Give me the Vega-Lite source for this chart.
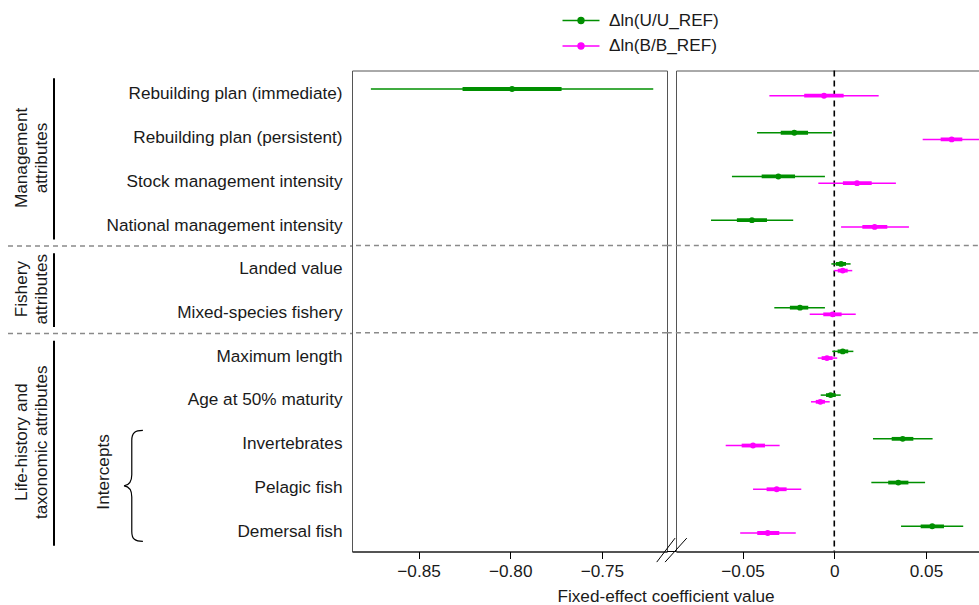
{
  "$schema": "https://vega.github.io/schema/vega-lite/v6.json",
  "padding": {"left": 0, "top": 10.5, "right": 0, "bottom": 0},
  "background": "white",
  "spacing": 9,
  "bounds": "flush",
  "config": {
    "font": "Liberation Sans",
    "view": {"stroke": "#555", "strokeWidth": 1},
    "axis": {"labelFontSize": 17.2, "labelColor": "#1a1a1a", "labelFont": "Liberation Sans", "titleFont": "Liberation Sans", "titleFontSize": 17.2, "titleFontWeight": "normal", "titleColor": "#1a1a1a", "domainColor": "#000", "tickColor": "#000", "grid": false, "tickSize": 7},
    "text": {"font": "Liberation Sans", "fontSize": 17.2, "fill": "#1a1a1a"}
  },
  "datasets": {
    "coef": [
      {"label": "Rebuilding plan (immediate)", "series": "Δln(U/U_REF)", "est": -0.799, "lo": -0.876, "hi": -0.722, "lo50": -0.826, "hi50": -0.772},
      {"label": "Rebuilding plan (persistent)", "series": "Δln(U/U_REF)", "est": -0.0218, "lo": -0.0421, "hi": -0.0013, "lo50": -0.0292, "hi50": -0.0143},
      {"label": "Stock management intensity", "series": "Δln(U/U_REF)", "est": -0.0305, "lo": -0.0558, "hi": -0.0051, "lo50": -0.0396, "hi50": -0.0214},
      {"label": "National management intensity", "series": "Δln(U/U_REF)", "est": -0.0449, "lo": -0.0672, "hi": -0.0224, "lo50": -0.0531, "hi50": -0.0367},
      {"label": "Landed value", "series": "Δln(U/U_REF)", "est": 0.0037, "lo": -0.0016, "hi": 0.0089, "lo50": 0.0009, "hi50": 0.0064},
      {"label": "Mixed-species fishery", "series": "Δln(U/U_REF)", "est": -0.0187, "lo": -0.0327, "hi": -0.0051, "lo50": -0.0242, "hi50": -0.0142},
      {"label": "Maximum length", "series": "Δln(U/U_REF)", "est": 0.0046, "lo": -0.0011, "hi": 0.0104, "lo50": 0.0018, "hi50": 0.0076},
      {"label": "Age at 50% maturity", "series": "Δln(U/U_REF)", "est": -0.002, "lo": -0.0074, "hi": 0.0035, "lo50": -0.0045, "hi50": 0.0008},
      {"label": "Invertebrates", "series": "Δln(U/U_REF)", "est": 0.0373, "lo": 0.0211, "hi": 0.0536, "lo50": 0.0313, "hi50": 0.0431},
      {"label": "Pelagic fish", "series": "Δln(U/U_REF)", "est": 0.0349, "lo": 0.0202, "hi": 0.0495, "lo50": 0.0294, "hi50": 0.0404},
      {"label": "Demersal fish", "series": "Δln(U/U_REF)", "est": 0.0534, "lo": 0.0364, "hi": 0.0703, "lo50": 0.0471, "hi50": 0.0598},
      {"label": "Rebuilding plan (immediate)", "series": "Δln(B/B_REF)", "est": -0.0056, "lo": -0.0354, "hi": 0.0242, "lo50": -0.0164, "hi50": 0.0051},
      {"label": "Rebuilding plan (persistent)", "series": "Δln(B/B_REF)", "est": 0.064, "lo": 0.0482, "hi": 0.0798, "lo50": 0.058, "hi50": 0.0698},
      {"label": "Stock management intensity", "series": "Δln(B/B_REF)", "est": 0.0124, "lo": -0.0087, "hi": 0.0336, "lo50": 0.0047, "hi50": 0.0204},
      {"label": "National management intensity", "series": "Δln(B/B_REF)", "est": 0.022, "lo": 0.0037, "hi": 0.0407, "lo50": 0.0153, "hi50": 0.0289},
      {"label": "Landed value", "series": "Δln(B/B_REF)", "est": 0.0046, "lo": -0.0002, "hi": 0.0098, "lo50": 0.0019, "hi50": 0.0073},
      {"label": "Mixed-species fishery", "series": "Δln(B/B_REF)", "est": -0.0009, "lo": -0.0134, "hi": 0.0117, "lo50": -0.006, "hi50": 0.004},
      {"label": "Maximum length", "series": "Δln(B/B_REF)", "est": -0.004, "lo": -0.009, "hi": 0.0016, "lo50": -0.0069, "hi50": -0.0009},
      {"label": "Age at 50% maturity", "series": "Δln(B/B_REF)", "est": -0.0076, "lo": -0.0127, "hi": -0.0025, "lo50": -0.0101, "hi50": -0.0051},
      {"label": "Invertebrates", "series": "Δln(B/B_REF)", "est": -0.0443, "lo": -0.0592, "hi": -0.0298, "lo50": -0.0505, "hi50": -0.0378},
      {"label": "Pelagic fish", "series": "Δln(B/B_REF)", "est": -0.0314, "lo": -0.0443, "hi": -0.018, "lo50": -0.0369, "hi50": -0.026},
      {"label": "Demersal fish", "series": "Δln(B/B_REF)", "est": -0.0363, "lo": -0.0513, "hi": -0.021, "lo50": -0.042, "hi50": -0.03}
    ],
    "labels": [
      {"label": "Rebuilding plan (immediate)", "group": "Management\nattributes"},
      {"label": "Rebuilding plan (persistent)", "group": "Management\nattributes"},
      {"label": "Stock management intensity", "group": "Management\nattributes"},
      {"label": "National management intensity", "group": "Management\nattributes"},
      {"label": "Landed value", "group": "Fishery\nattributes"},
      {"label": "Mixed-species fishery", "group": "Fishery\nattributes"},
      {"label": "Maximum length", "group": "Life-history and\ntaxonomic attributes"},
      {"label": "Age at 50% maturity", "group": "Life-history and\ntaxonomic attributes"},
      {"label": "Invertebrates", "group": "Life-history and\ntaxonomic attributes", "sub": "Intercepts"},
      {"label": "Pelagic fish", "group": "Life-history and\ntaxonomic attributes", "sub": "Intercepts"},
      {"label": "Demersal fish", "group": "Life-history and\ntaxonomic attributes", "sub": "Intercepts"}
    ],
    "separators": [
      {"after": "National management intensity"},
      {"after": "Mixed-species fishery"}
    ],
    "zero": [{"ref": 0}],
    "axisbreak": [{"at": "Demersal fish", "pos": -0.089}]
  },
  "resolve": {"scale": {"x": "independent", "y": "independent"}},
  "hconcat": [
    {
      "width": 343,
      "height": 481,
      "view": {"stroke": null},
      "data": {"name": "labels"},
      "transform": [{"window": [{"op": "row_number", "as": "row"}]}],
      "layer": [
        {
          "transform": [{"aggregate": [{"op": "mean", "field": "row", "as": "mid"}], "groupby": ["group"]}],
          "mark": {"type": "text", "angle": 270, "lineBreak": "\n", "lineHeight": 20, "align": "center", "baseline": "middle", "fontSize": 17.2},
          "encoding": {
            "x": {"datum": 22, "type": "quantitative", "scale": {"domain": [0, 343], "nice": false, "zero": false}, "axis": null},
            "y": {"field": "mid", "type": "quantitative", "scale": {"domain": [0.5, 11.5], "reverse": true, "nice": false, "zero": false}, "axis": null},
            "text": {"field": "group", "type": "nominal"}
          }
        },
        {
          "transform": [{"aggregate": [{"op": "min", "field": "row", "as": "r0"}, {"op": "max", "field": "row", "as": "r1"}], "groupby": ["group"]}],
          "mark": {"type": "rule", "strokeWidth": 2, "color": "#000", "yOffset": -14, "y2Offset": 16},
          "encoding": {
            "x": {"datum": 54, "type": "quantitative", "scale": {"domain": [0, 343], "nice": false, "zero": false}, "axis": null},
            "y": {"field": "r0", "type": "quantitative", "scale": {"domain": [0.5, 11.5], "reverse": true, "nice": false, "zero": false}, "axis": null},
            "y2": {"field": "r1"}
          }
        },
        {
          "transform": [{"aggregate": [{"op": "max", "field": "row", "as": "r1"}], "groupby": ["group"]}, {"filter": "datum.r1 < 11"}],
          "mark": {"type": "rule", "strokeDash": [5, 4], "strokeWidth": 1.5, "color": "#8a8a8a", "yOffset": 22.5},
          "encoding": {
            "x": {"datum": 8, "type": "quantitative", "scale": {"domain": [0, 343], "nice": false, "zero": false}, "axis": null},
            "x2": {"datum": 352},
            "y": {"field": "r1", "type": "quantitative", "scale": {"domain": [0.5, 11.5], "reverse": true, "nice": false, "zero": false}, "axis": null}
          }
        },
        {
          "transform": [{"filter": "isValid(datum.sub)"}, {"aggregate": [{"op": "mean", "field": "row", "as": "mid"}], "groupby": ["sub"]}],
          "mark": {"type": "text", "angle": 270, "align": "center", "baseline": "middle", "fontSize": 17.2, "yOffset": -14},
          "encoding": {
            "x": {"datum": 104, "type": "quantitative", "scale": {"domain": [0, 343], "nice": false, "zero": false}, "axis": null},
            "y": {"field": "mid", "type": "quantitative", "scale": {"domain": [0.5, 11.5], "reverse": true, "nice": false, "zero": false}, "axis": null},
            "text": {"field": "sub", "type": "nominal"}
          }
        },
        {
          "transform": [{"filter": "isValid(datum.sub)"}, {"aggregate": [{"op": "mean", "field": "row", "as": "mid"}], "groupby": ["sub"]}],
          "mark": {"type": "point", "shape": "M 0.16 -1 C 0.02 -1 -0.04 -0.96 -0.04 -0.82 L -0.04 -0.2 C -0.04 -0.07 -0.1 -0.01 -0.18 0 C -0.1 0.01 -0.04 0.07 -0.04 0.2 L -0.04 0.82 C -0.04 0.96 0.02 1 0.16 1", "size": 12321, "filled": false, "stroke": "#000", "strokeWidth": 1.2, "opacity": 1},
          "encoding": {
            "x": {"datum": 134, "type": "quantitative", "scale": {"domain": [0, 343], "nice": false, "zero": false}, "axis": null},
            "y": {"field": "mid", "type": "quantitative", "scale": {"domain": [0.5, 11.5], "reverse": true, "nice": false, "zero": false}, "axis": null}
          }
        }
      ]
    },
    {
      "width": 315,
      "height": 481,
      "data": {"name": "coef"},
      "encoding": {
        "y": {"field": "label", "type": "nominal", "scale": {"type": "band", "paddingInner": 0, "paddingOuter": 0, "domain": ["Rebuilding plan (immediate)", "Rebuilding plan (persistent)", "Stock management intensity", "National management intensity", "Landed value", "Mixed-species fishery", "Maximum length", "Age at 50% maturity", "Invertebrates", "Pelagic fish", "Demersal fish"]}, "axis": {"title": null, "ticks": false, "tickSize": 0, "domain": false, "labelPadding": 10, "labelOffset": 2, "labelFontSize": 17.2, "labelLimit": 400}},
        "color": {"field": "series", "type": "nominal", "scale": {"domain": ["Δln(U/U_REF)", "Δln(B/B_REF)"], "range": ["#008f00", "#ff00ff"]}, "legend": {"orient": "none", "legendX": 571, "legendY": -60, "title": null, "symbolType": "M -2 0 L 2 0 M -0.32 0 A 0.32 0.32 0 1 0 0.32 0 A 0.32 0.32 0 1 0 -0.32 0 Z", "symbolSize": 342, "symbolStrokeWidth": 1.5, "labelFontSize": 17.2, "labelColor": "#1a1a1a", "labelOffset": 18, "rowPadding": 6.5, "labelLimit": 300, "padding": 0, "encode": {"symbols": {"update": {"stroke": {"scale": "color", "field": "value"}, "fill": {"scale": "color", "field": "value"}}}}}}
      },
      "layer": [
        {
          "data": {"name": "separators"},
          "mark": {"type": "rule", "strokeDash": [5, 4], "strokeWidth": 1.5, "color": "#8a8a8a"},
          "encoding": {
            "y": {"field": "after", "type": "nominal", "bandPosition": 1},
            "color": {"value": "#8a8a8a"}
          }
        },
        {
          "transform": [{"filter": "datum.est < -0.5"}],
          "mark": {"type": "rule", "strokeWidth": 1.5, "yOffset": -3.35},
          "encoding": {
            "x": {"field": "lo", "type": "quantitative", "scale": {"domain": [-0.8863, -0.7145], "nice": false, "zero": false}, "axis": {"values": [-0.85, -0.8, -0.75], "format": ".2f", "title": "Fixed-effect coefficient value", "titleX": 313.5, "titlePadding": 8, "labelPadding": 4}},
            "x2": {"field": "hi"}
          }
        },
        {
          "transform": [{"filter": "datum.est < -0.5"}],
          "mark": {"type": "rule", "strokeWidth": 3.8, "yOffset": -3.35},
          "encoding": {
            "x": {"field": "lo50", "type": "quantitative"},
            "x2": {"field": "hi50"}
          }
        },
        {
          "transform": [{"filter": "datum.est < -0.5"}],
          "mark": {"type": "point", "filled": true, "size": 34, "opacity": 1, "yOffset": -3.35},
          "encoding": {
            "x": {"field": "est", "type": "quantitative"}
          }
        }
      ]
    },
    {
      "width": 303,
      "height": 481,
      "data": {"name": "coef"},
      "encoding": {
        "y": {"field": "label", "type": "nominal", "scale": {"type": "band", "paddingInner": 0, "paddingOuter": 0, "domain": ["Rebuilding plan (immediate)", "Rebuilding plan (persistent)", "Stock management intensity", "National management intensity", "Landed value", "Mixed-species fishery", "Maximum length", "Age at 50% maturity", "Invertebrates", "Pelagic fish", "Demersal fish"]}, "axis": null}
      },
      "layer": [
        {
          "data": {"name": "separators"},
          "mark": {"type": "rule", "strokeDash": [5, 4], "strokeWidth": 1.5, "color": "#8a8a8a", "clip": false},
          "encoding": {
            "x": {"datum": -0.0913, "type": "quantitative", "scale": {"domain": [-0.0863, 0.0789], "nice": false, "zero": false}, "axis": {"values": [-0.05, 0, 0.05], "labelExpr": "datum.value == 0 ? '0' : format(datum.value, '.2f')", "title": null, "labelPadding": 4}},
            "x2": {"datum": 0.0789},
            "y": {"field": "after", "type": "nominal", "bandPosition": 1}
          }
        },
        {
          "data": {"name": "zero"},
          "mark": {"type": "rule", "strokeDash": [6, 4], "strokeWidth": 1.6, "color": "#000"},
          "encoding": {
            "x": {"field": "ref", "type": "quantitative"},
            "y": null
          }
        },
        {
          "transform": [{"filter": "datum.est > -0.5 && datum.series == 'Δln(U/U_REF)'"}],
          "mark": {"type": "rule", "strokeWidth": 1.5, "clip": true, "yOffset": -3.35},
          "encoding": {
            "x": {"field": "lo", "type": "quantitative"},
            "x2": {"field": "hi"},
            "color": {"field": "series", "type": "nominal"}
          }
        },
        {
          "transform": [{"filter": "datum.est > -0.5 && datum.series == 'Δln(U/U_REF)'"}],
          "mark": {"type": "rule", "strokeWidth": 3.8, "clip": true, "yOffset": -3.35},
          "encoding": {
            "x": {"field": "lo50", "type": "quantitative"},
            "x2": {"field": "hi50"},
            "color": {"field": "series", "type": "nominal"}
          }
        },
        {
          "transform": [{"filter": "datum.est > -0.5 && datum.series == 'Δln(U/U_REF)'"}],
          "mark": {"type": "point", "filled": true, "size": 34, "opacity": 1, "clip": true, "yOffset": -3.35},
          "encoding": {
            "x": {"field": "est", "type": "quantitative"},
            "color": {"field": "series", "type": "nominal"}
          }
        },
        {
          "transform": [{"filter": "datum.series == 'Δln(B/B_REF)'"}],
          "mark": {"type": "rule", "strokeWidth": 1.5, "clip": true, "yOffset": 3.35},
          "encoding": {
            "x": {"field": "lo", "type": "quantitative"},
            "x2": {"field": "hi"},
            "color": {"field": "series", "type": "nominal"}
          }
        },
        {
          "transform": [{"filter": "datum.series == 'Δln(B/B_REF)'"}],
          "mark": {"type": "rule", "strokeWidth": 3.8, "clip": true, "yOffset": 3.35},
          "encoding": {
            "x": {"field": "lo50", "type": "quantitative"},
            "x2": {"field": "hi50"},
            "color": {"field": "series", "type": "nominal"}
          }
        },
        {
          "transform": [{"filter": "datum.series == 'Δln(B/B_REF)'"}],
          "mark": {"type": "point", "filled": true, "size": 34, "opacity": 1, "clip": true, "yOffset": 3.35},
          "encoding": {
            "x": {"field": "est", "type": "quantitative"},
            "color": {"field": "series", "type": "nominal"}
          }
        },
        {
          "data": {"name": "axisbreak"},
          "mark": {"type": "point", "shape": "M -1.1 0.815 L 0.31 -1.03 M -0.46 0.815 L 1.21 -1.03 M -0.31 0 L 0.38 0", "size": 676, "filled": false, "stroke": "#000", "strokeWidth": 1, "opacity": 1, "clip": false},
          "encoding": {
            "x": {"field": "pos", "type": "quantitative"},
            "y": {"field": "at", "type": "nominal", "bandPosition": 1}
          }
        }
      ]
    }
  ]
}
